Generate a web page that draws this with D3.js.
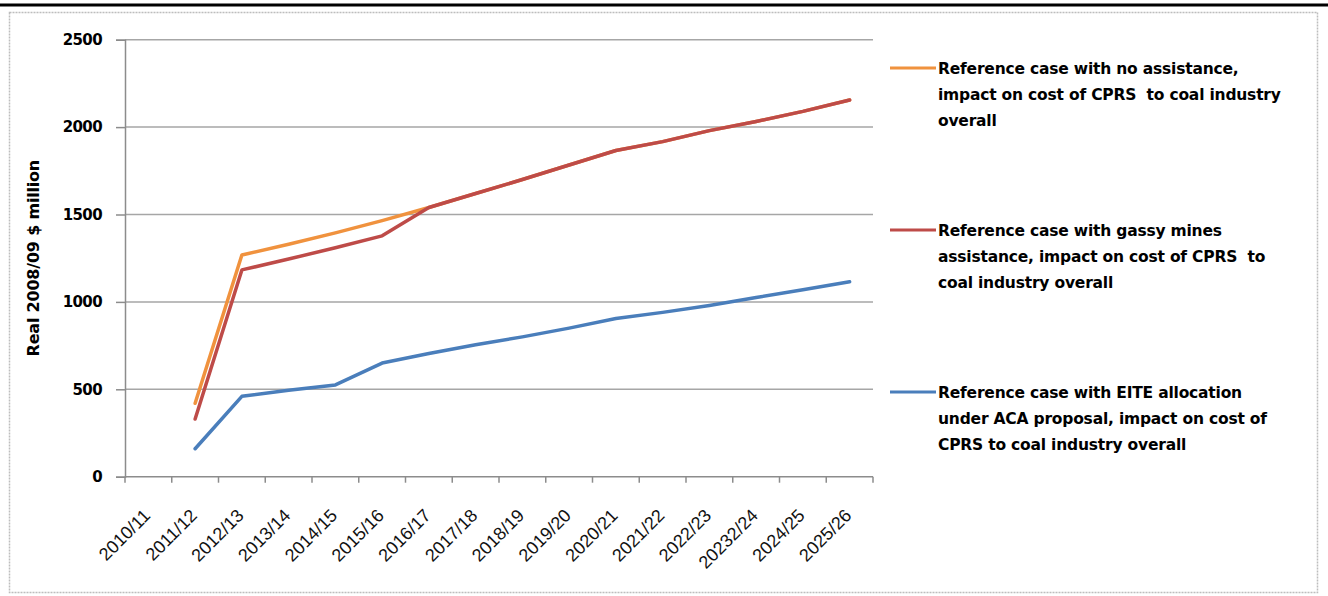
<!DOCTYPE html>
<html>
<head>
<meta charset="utf-8">
<script src="https://cdn.jsdelivr.net/npm/d3@7"></script>
<style>
  html, body { margin: 0; padding: 0; background: #fff; }
  svg text { white-space: pre; }
</style>
</head>
<body>
<svg id="chart" width="1328" height="596"></svg>
<script>
// Financial years on the category axis (2010/11 has no data)
const categories = ["2010/11","2011/12","2012/13","2013/14","2014/15","2015/16","2016/17",
  "2017/18","2018/19","2019/20","2020/21","2021/22","2022/23","20232/24","2024/25","2025/26"];

// Real 2008/09 $ million, 2011/12 .. 2025/26
const noAssistance = [420, 1268, 1330, 1395, 1465, 1540, 1620, 1700, 1783, 1866, 1917, 1980, 2032, 2090, 2155];
const gassyMines   = [330, 1183, 1245, 1310, 1378, 1540, 1620, 1700, 1783, 1866, 1917, 1980, 2032, 2090, 2155];
const eiteACA      = [160,  460,  495,  525,  650,  705,  755,  800,  850,  905,  940,  980, 1025, 1070, 1115];

const yTicks = [0, 500, 1000, 1500, 2000, 2500];

const seriesNames = [
  "Reference case with no assistance,\nimpact on cost of CPRS  to coal industry\noverall",
  "Reference case with gassy mines\nassistance, impact on cost of CPRS  to\ncoal industry overall",
  "Reference case with EITE allocation\nunder ACA proposal, impact on cost of\nCPRS to coal industry overall"
];
const seriesValues = [noAssistance, gassyMines, eiteACA];
const seriesColors = ["#F0923E", "#BE4B48", "#4A7EBB"];

const firstCategory = 1; // series start at 2011/12

const svg = d3.select("#chart");

// page rule and chart frame
svg.append("line").attr("x1", 0).attr("x2", 1328).attr("y1", 5).attr("y2", 5)
  .attr("stroke", "#000").attr("stroke-width", 3);
svg.append("rect").attr("x", 9.5).attr("y", 12.5).attr("width", 1308).attr("height", 580)
  .attr("fill", "none").attr("stroke", "#BDBDBD").attr("stroke-width", 1.5)
  .attr("stroke-dasharray", "2,1");

const plot = { left: 125, right: 873, top: 39.7, bottom: 476.7 };

const x = d3.scaleBand().domain(categories).range([plot.left, plot.right]).padding(0);
const y = d3.scaleLinear().domain([0, 2500]).range([plot.bottom, plot.top]);

// horizontal gridlines
svg.append("g").selectAll("line").data(yTicks.filter(d => d > 0)).join("line")
  .attr("x1", plot.left).attr("x2", plot.right)
  .attr("y1", d => y(d)).attr("y2", d => y(d))
  .attr("stroke", "#A6A6A6").attr("stroke-width", 1.5);

// y axis
const yAxis = svg.append("g").attr("transform", `translate(${plot.left},0)`)
  .call(d3.axisLeft(y).tickValues(yTicks).tickFormat(d3.format("d")).tickSize(9).tickPadding(14));
yAxis.select(".domain").attr("stroke", "#8C8C8C").attr("stroke-width", 1.5);
yAxis.selectAll(".tick line").attr("stroke", "#8C8C8C").attr("stroke-width", 1.5);
yAxis.selectAll(".tick text")
  .attr("font-family", "DejaVu Sans").attr("font-weight", "bold").attr("font-size", 15)
  .attr("fill", "#000").attr("letter-spacing", -0.6);

// x axis: ticks on category boundaries, labels at category centres
const xAxisG = svg.append("g");
xAxisG.append("line").attr("x1", plot.left).attr("x2", plot.right)
  .attr("y1", plot.bottom).attr("y2", plot.bottom)
  .attr("stroke", "#8C8C8C").attr("stroke-width", 1.5);
const boundaries = categories.map(c => x(c)).concat([x(categories[categories.length - 1]) + x.bandwidth()]);
xAxisG.selectAll("line.tk").data(boundaries).join("line").attr("class", "tk")
  .attr("x1", d => d).attr("x2", d => d).attr("y1", plot.bottom).attr("y2", plot.bottom + 6)
  .attr("stroke", "#8C8C8C").attr("stroke-width", 1.5);
xAxisG.selectAll("text").data(categories).join("text")
  .attr("transform", d => `translate(${x(d) + x.bandwidth() / 2 + 3},${plot.bottom + 40}) rotate(-45)`)
  .attr("text-anchor", "end")
  .attr("font-family", "Liberation Sans").attr("font-size", 18).attr("fill", "#111")
  .text(d => d);

// y axis title
svg.append("text")
  .attr("transform", `translate(39,${(plot.top + plot.bottom) / 2}) rotate(-90)`)
  .attr("text-anchor", "middle")
  .attr("font-family", "DejaVu Sans").attr("font-weight", "bold").attr("font-size", 16)
  .attr("letter-spacing", -0.2)
  .text("Real 2008/09 $ million");

// series lines
const line = d3.line()
  .x((d, i) => x(categories[i + firstCategory]) + x.bandwidth() / 2)
  .y(d => y(d));

seriesValues.forEach((vals, k) => {
  svg.append("path").datum(vals)
    .attr("d", line)
    .attr("fill", "none")
    .attr("stroke", seriesColors[k])
    .attr("stroke-width", 3.5)
    .attr("stroke-linejoin", "round")
    .attr("stroke-linecap", "round");
});

// legend
const legendTop = [68, 230, 392];
const legend = svg.append("g");
seriesNames.forEach((name, k) => {
  const g = legend.append("g").attr("transform", `translate(0,${legendTop[k]})`);
  g.append("line").attr("x1", 890).attr("x2", 936).attr("y1", 0).attr("y2", 0)
    .attr("stroke", seriesColors[k]).attr("stroke-width", 3);
  g.append("text")
    .attr("x", 938).attr("y", 5.5)
    .attr("font-family", "DejaVu Sans").attr("font-weight", "bold").attr("font-size", 15.5)
    .attr("letter-spacing", -0.2)
    .selectAll("tspan").data(name.split("\n")).join("tspan")
    .attr("x", 938).attr("dy", (d, i) => i === 0 ? 0 : 26)
    .text(d => d);
});
</script>
</body>
</html>
